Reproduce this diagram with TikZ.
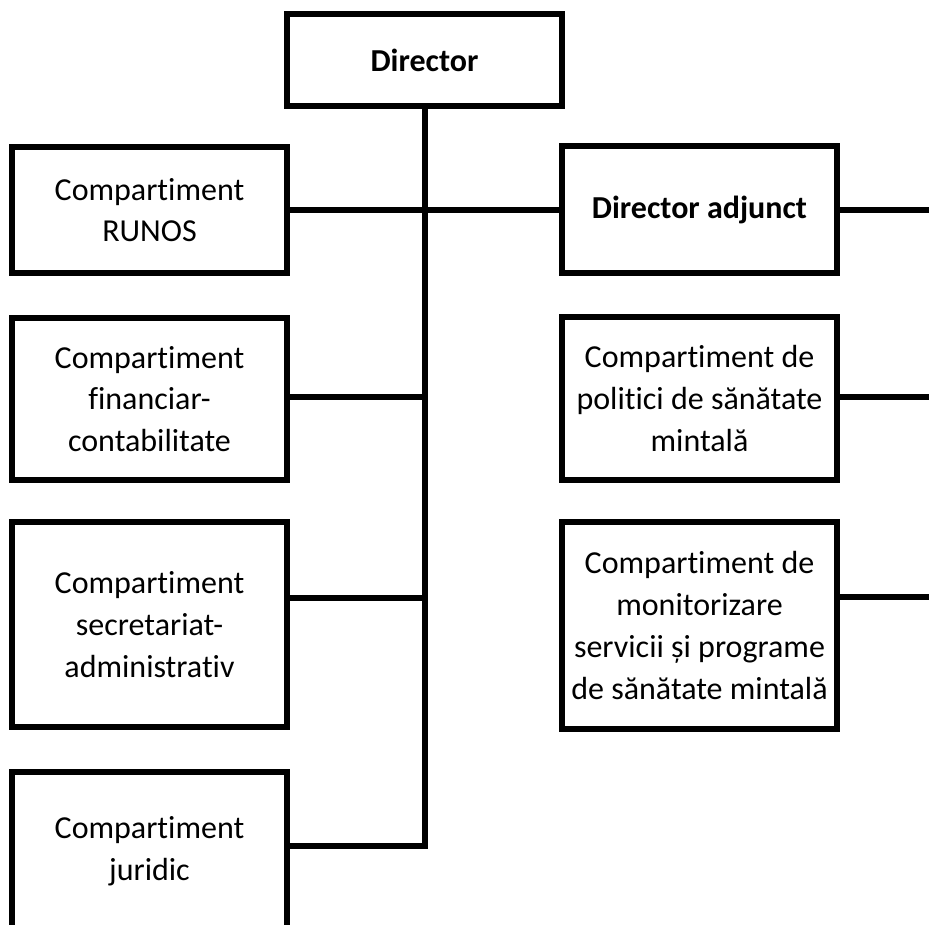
\documentclass[tikz,border=0pt]{standalone}
\usepackage{fontspec}
\setmainfont{Carlito}[Ligatures={NoCommon}]
\begin{document}
\begin{tikzpicture}[x=1pt,y=-1pt,
  box/.style={draw=black, line width=6pt, fill=white, inner sep=0pt, outer sep=0pt,
    minimum width=275pt, align=center, font=\fontsize{32}{41.7}\selectfont},
  boldbox/.style={box, font=\fontsize{32}{41.7}\selectfont\bfseries},
  conn/.style={line width=6pt, line join=miter, line cap=rect}]
\useasboundingbox (0,0) rectangle (929,925);
\clip (0,0) rectangle (929,925);
% nodes
\node[boldbox, minimum height=92pt] (dir) at (424.5,60) {Director};
\node[box, minimum height=126pt] (runos) at (149.5,210) {Compartiment\\RUNOS};
\node[box, minimum height=162pt] (fin) at (149.5,399) {Compartiment\\financiar-\\contabilitate};
\node[box, minimum height=205pt] (sec) at (149.5,624.5) {Compartiment\\secretariat-\\administrativ};
\node[box, minimum height=158pt] (jur) at (149.5,851) {Compartiment\\juridic};
\node[boldbox, minimum height=127pt] (adj) at (699.5,210) {Director adjunct};
\node[box, minimum height=163pt] (pol) at (699.5,398.5) {Compartiment de\\politici de sănătate\\mintală};
\node[box, minimum height=207pt] (mon) at (699.5,625.5) {Compartiment de\\monitorizare\\servicii și programe\\de sănătate mintală};
% free ends
\coordinate (tb) at (424.5,846);
\coordinate (e1) at (935,210);
\coordinate (e2) at (935,397);
\coordinate (e3) at (935,597);
% connectors
\draw[conn] (dir.south) -- (tb) -- ([yshift=5pt]jur.east);
\draw[conn] (runos.east) -- (adj.west);
\draw[conn] ([yshift=2pt]fin.east) -- ([yshift=2pt]fin.east -| tb);
\draw[conn] ([yshift=26.5pt]sec.east) -- ([yshift=26.5pt]sec.east -| tb);
\draw[conn] (adj.east) -- (e1);
\draw[conn] ([yshift=1.5pt]pol.east) -- (e2);
\draw[conn] ([yshift=28.5pt]mon.east) -- (e3);
\end{tikzpicture}
\end{document}
